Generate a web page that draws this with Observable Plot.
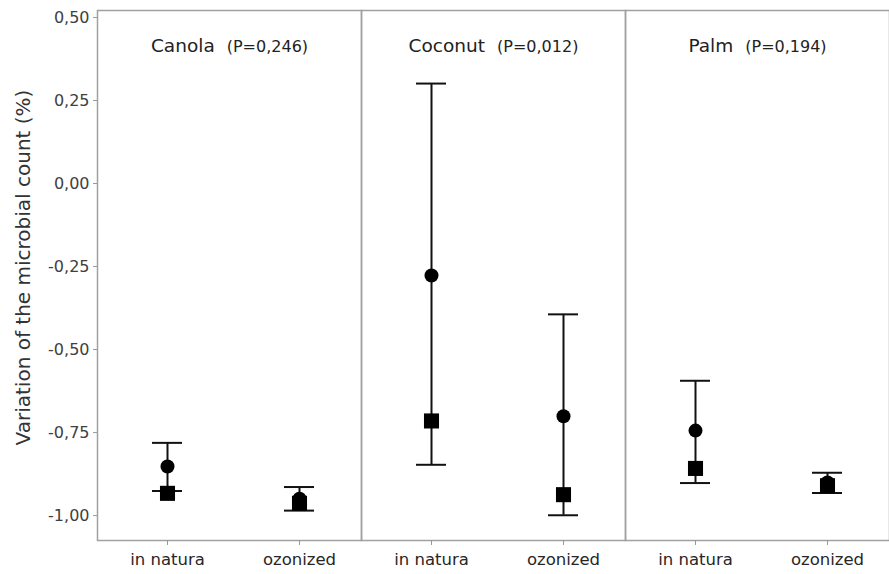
<!DOCTYPE html>
<html>
<head>
<meta charset="utf-8">
<script src="https://cdn.jsdelivr.net/npm/d3@7"></script>
<script src="https://cdn.jsdelivr.net/npm/@observablehq/plot@0.6"></script>
<style>
  html, body { margin: 0; padding: 0; background: #fff; }
</style>
</head>
<body>
<div id="chart"></div>
<script>
// ---- Data ----
const oils = ["Canola", "Coconut", "Palm"];
const pValues = ["(P=0,246)", "(P=0,012)", "(P=0,194)"];
const treatments = ["in natura", "ozonized"];
// order: Canola in natura, Canola ozonized, Coconut in natura, Coconut ozonized, Palm in natura, Palm ozonized
const circleValues = [-0.852, -0.949, -0.277, -0.701, -0.744, -0.900];
const squareValues = [-0.933, -0.963, -0.715, -0.937, -0.858, -0.910];
const upperValues  = [-0.781, -0.914,  0.301, -0.394, -0.594, -0.871];
const lowerValues  = [-0.926, -0.985, -0.847, -0.999, -0.902, -0.932];
const yTicks = [-1.00, -0.75, -0.50, -0.25, 0.00, 0.25, 0.50];
const yLabel = "Variation of the microbial count (%)";

// ---- Build tables ----
const rows = [];
oils.forEach((oil, i) => treatments.forEach((t, j) => {
  const k = i * 2 + j;
  rows.push({oil, treatment: t, mean: circleValues[k], median: squareValues[k], upper: upperValues[k], lower: lowerValues[k]});
}));
const titles = oils.map((oil, i) => ({oil, name: oil, p: pValues[i]}));
const fmt = v => d3.format(".2f")(v).replace(".", ",").replace("\u2212", "-");

const chart = Plot.plot({
  width: 889,
  height: 574,
  marginLeft: 96,
  marginRight: 0,
  marginTop: 10,
  marginBottom: 34,
  style: {fontFamily: "DejaVu Sans", fontSize: "16px", color: "#333", background: "#fff", overflow: "visible"},
  fx: {domain: oils, padding: 0, axis: null},
  x: {domain: treatments, type: "band", paddingInner: 0.774, paddingOuter: 0.383, align: 0.54},
  y: {domain: [-1.075, 0.521]},
  marks: [
    Plot.frame({stroke: "#a0a0a0", strokeWidth: 1.5}),
    Plot.axisY({ticks: yTicks, tickFormat: fmt, tickSize: 4, tickPadding: 4, stroke: "#999", fill: "#404040", fontSize: 16, label: null}),
    Plot.axisX({tickSize: 5, tickPadding: 8, stroke: "#999", fill: "#262626", fontSize: 16.5, label: null}),
    Plot.text([{oil: oils[0], label: yLabel}], {fx: "oil", text: "label", frameAnchor: "left", textAnchor: "middle", lineAnchor: "middle", dx: -74, dy: -8, rotate: -90, fontSize: 20, fill: "#333"}),
    Plot.text(titles, {fx: "oil", text: "name", frameAnchor: "top", textAnchor: "middle", lineAnchor: "top", dy: 28, fontSize: 18.5, fill: "#222"}),
    Plot.ruleX(rows, {fx: "oil", x: "treatment", y1: "lower", y2: "upper", stroke: "#111", strokeWidth: 2}),
    Plot.tickY(rows, {fx: "oil", x: "treatment", y: "upper", stroke: "#111", strokeWidth: 2}),
    Plot.tickY(rows, {fx: "oil", x: "treatment", y: "lower", stroke: "#111", strokeWidth: 2}),
    Plot.dot(rows, {fx: "oil", x: "treatment", y: "mean", r: 7, fill: "#000", stroke: "none"}),
    Plot.dot(rows, {fx: "oil", x: "treatment", y: "median", symbol: "square", r: 8.5, fill: "#000", stroke: "none"})
  ]
});

// Append the smaller P-value part to each facet title as a tspan
d3.select(chart).selectAll("text").each(function() {
  const idx = oils.indexOf(this.textContent);
  if (idx >= 0) {
    d3.select(this).append("tspan").attr("dx", 12).attr("font-size", 16).text(pValues[idx]);
  }
});

document.getElementById("chart").appendChild(chart);
</script>
</body>
</html>
